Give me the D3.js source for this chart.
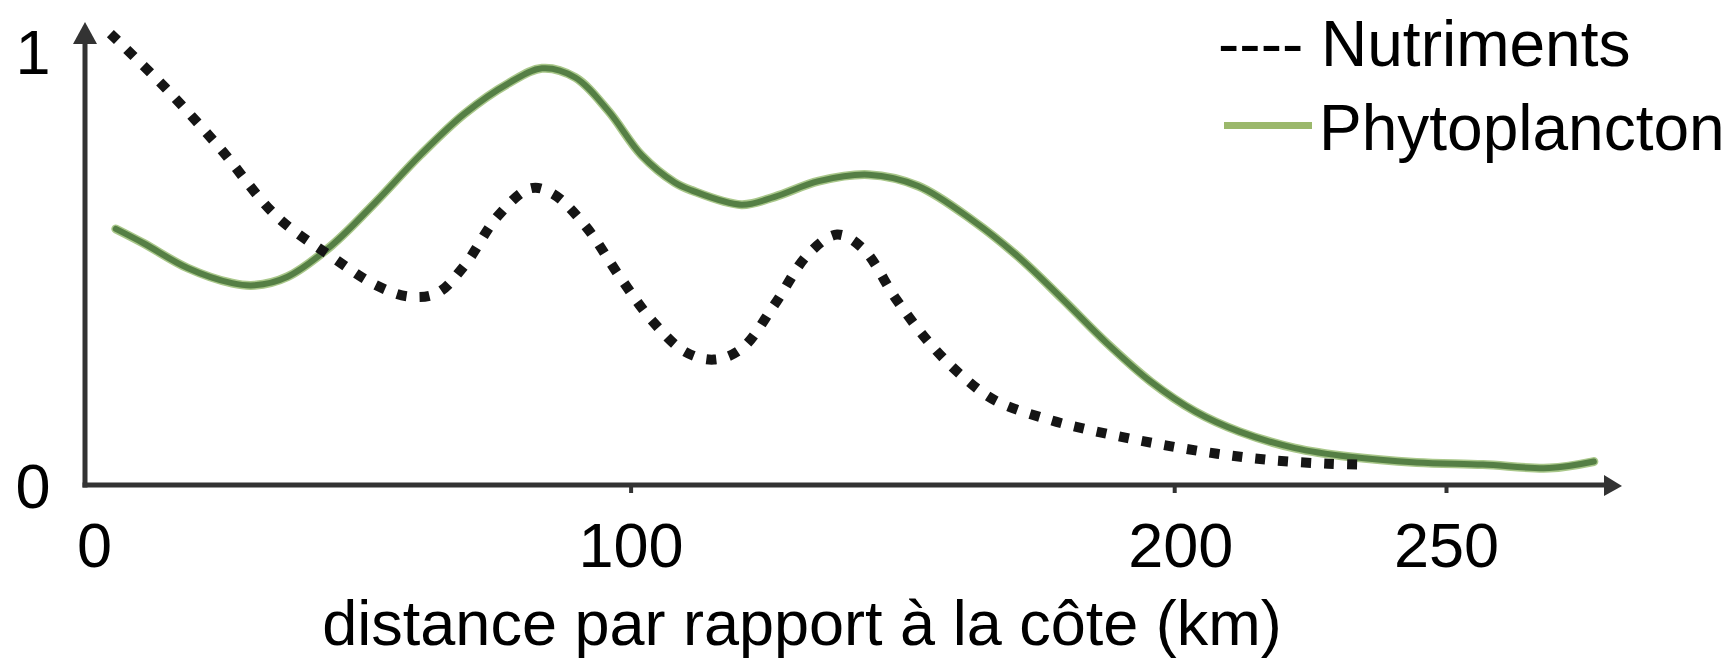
<!DOCTYPE html>
<html>
<head>
<meta charset="utf-8">
<script src="https://cdn.jsdelivr.net/npm/d3@7"></script>
<style>
  body { margin: 0; background: #fff; }
  svg { display: block; font-family: "Liberation Sans", Arial, sans-serif; }
</style>
</head>
<body>
<svg id="chart" width="1735" height="661"></svg>
<script>
// values (distance in km, relative level 0..1)
const nutDist = [4.3, 14.5, 24.6, 34.8, 45, 53.2, 59.3, 64.4, 69.4, 75.6, 81.7, 85.7, 91.8, 98, 104, 110, 115.3, 120.4, 126.5, 132.6, 138, 142.8, 148.8, 155, 161, 167.2, 177.4, 187.6, 197.7, 207.9, 218.1, 228.3, 234.4];
const nutVal = [1.04, 0.914, 0.774, 0.62, 0.526, 0.46, 0.434, 0.442, 0.505, 0.62, 0.684, 0.671, 0.595, 0.48, 0.378, 0.307, 0.289, 0.314, 0.416, 0.531, 0.577, 0.544, 0.429, 0.327, 0.251, 0.194, 0.149, 0.118, 0.093, 0.072, 0.057, 0.049, 0.047];
const phytoDist = [5.3, 10.4, 18.5, 26.7, 30.8, 36.9, 45, 53.2, 61.3, 69.4, 77.6, 83.7, 89.8, 95.9, 102, 108.1, 111.2, 120.4, 126.5, 134.6, 143.8, 152.9, 163.1, 171.3, 179.4, 187.6, 195.7, 203.9, 212, 222.2, 232.3, 244.6, 256.8, 269, 277.2];
const phytoVal = [0.59, 0.557, 0.50, 0.465, 0.46, 0.48, 0.552, 0.653, 0.76, 0.855, 0.926, 0.96, 0.939, 0.862, 0.76, 0.697, 0.679, 0.646, 0.664, 0.70, 0.715, 0.689, 0.608, 0.526, 0.429, 0.327, 0.238, 0.169, 0.123, 0.085, 0.065, 0.052, 0.047, 0.039, 0.054];
const xTicks = [0, 100, 200, 250];
const yTicks = [0, 1];
const legendLabels = ["---- Nutriments", "Phytoplancton"];
const xTitle = "distance par rapport à la côte (km)";

const fontSize = 63;
const legendSize = 64;
const axisColor = "#333";

const svg = d3.select("#chart");

const x = d3.scaleLinear().domain([0, 250]).range([87, 1446]);
const y = d3.scaleLinear().domain([0, 1]).range([485, 51]);

const axisX0 = 85;          // where the y axis sits
const xArrowTip = 1622;
const yArrowTip = 22;

// x axis ticks + labels
const gx = svg.append("g")
  .attr("transform", `translate(0,${y(0)})`)
  .call(d3.axisBottom(x).tickValues(xTicks).tickSize(8).tickPadding(29).tickFormat(d3.format("d")));
gx.select(".domain").remove();
gx.selectAll(".tick line")
  .attr("stroke", axisColor)
  .attr("stroke-width", 4)
  .attr("opacity", d => d === 0 ? 0 : 1);
gx.selectAll(".tick text")
  .attr("font-size", fontSize)
  .attr("fill", "#000")
  .attr("font-family", "Liberation Sans, Arial, sans-serif")
  .attr("dx", d => d === 0 ? 7 : d === 200 ? 6 : 0);

// y labels
svg.append("g")
  .selectAll("text")
  .data(yTicks)
  .join("text")
  .attr("x", 33)
  .attr("y", d => y(d))
  .attr("dy", "0.36em")
  .attr("text-anchor", "middle")
  .attr("font-size", fontSize)
  .text(d => d);

// axis lines with arrow heads
svg.append("line")
  .attr("x1", axisX0).attr("x2", axisX0)
  .attr("y1", y(0) + 2.5).attr("y2", yArrowTip + 18)
  .attr("stroke", axisColor).attr("stroke-width", 5);
svg.append("path")
  .attr("d", `M${axisX0},${yArrowTip} L${axisX0 - 12},${yArrowTip + 22} L${axisX0 + 12},${yArrowTip + 22} Z`)
  .attr("fill", axisColor);
svg.append("line")
  .attr("x1", axisX0 - 2.5).attr("x2", xArrowTip - 14)
  .attr("y1", y(0)).attr("y2", y(0))
  .attr("stroke", axisColor).attr("stroke-width", 5);
svg.append("path")
  .attr("d", `M${xArrowTip},${y(0) + 1} L${xArrowTip - 18},${y(0) - 10} L${xArrowTip - 18},${y(0) + 11} Z`)
  .attr("fill", axisColor);

// curves
const line = d3.line()
  .curve(d3.curveCatmullRom.alpha(0.5))
  .x(d => x(d[0]))
  .y(d => y(d[1]));

const nutData = nutDist.map((d, i) => [d, nutVal[i]]);
const phytoData = phytoDist.map((d, i) => [d, phytoVal[i]]);

svg.append("path")
  .attr("d", line(phytoData))
  .attr("fill", "none")
  .attr("stroke", "#a9c78a")
  .attr("stroke-width", 9)
  .attr("stroke-linecap", "round");
svg.append("path")
  .attr("d", line(phytoData))
  .attr("fill", "none")
  .attr("stroke", "#557f45")
  .attr("stroke-width", 6)
  .attr("stroke-linecap", "round");

svg.append("path")
  .attr("d", line(nutData))
  .attr("fill", "none")
  .attr("stroke", "#151515")
  .attr("stroke-width", 10)
  .attr("stroke-dasharray", "10,13");

// legend
svg.append("text")
  .attr("x", 1218).attr("y", 66)
  .attr("font-size", legendSize)
  .text(legendLabels[0]);
svg.append("line")
  .attr("x1", 1224).attr("x2", 1312)
  .attr("y1", 125.5).attr("y2", 125.5)
  .attr("stroke", "#9bb86b")
  .attr("stroke-width", 7);
svg.append("text")
  .attr("x", 1319).attr("y", 150)
  .attr("font-size", legendSize)
  .text(legendLabels[1]);

// axis title
svg.append("text")
  .attr("x", 802).attr("y", 645)
  .attr("text-anchor", "middle")
  .attr("font-size", fontSize)
  .text(xTitle);
</script>
</body>
</html>
